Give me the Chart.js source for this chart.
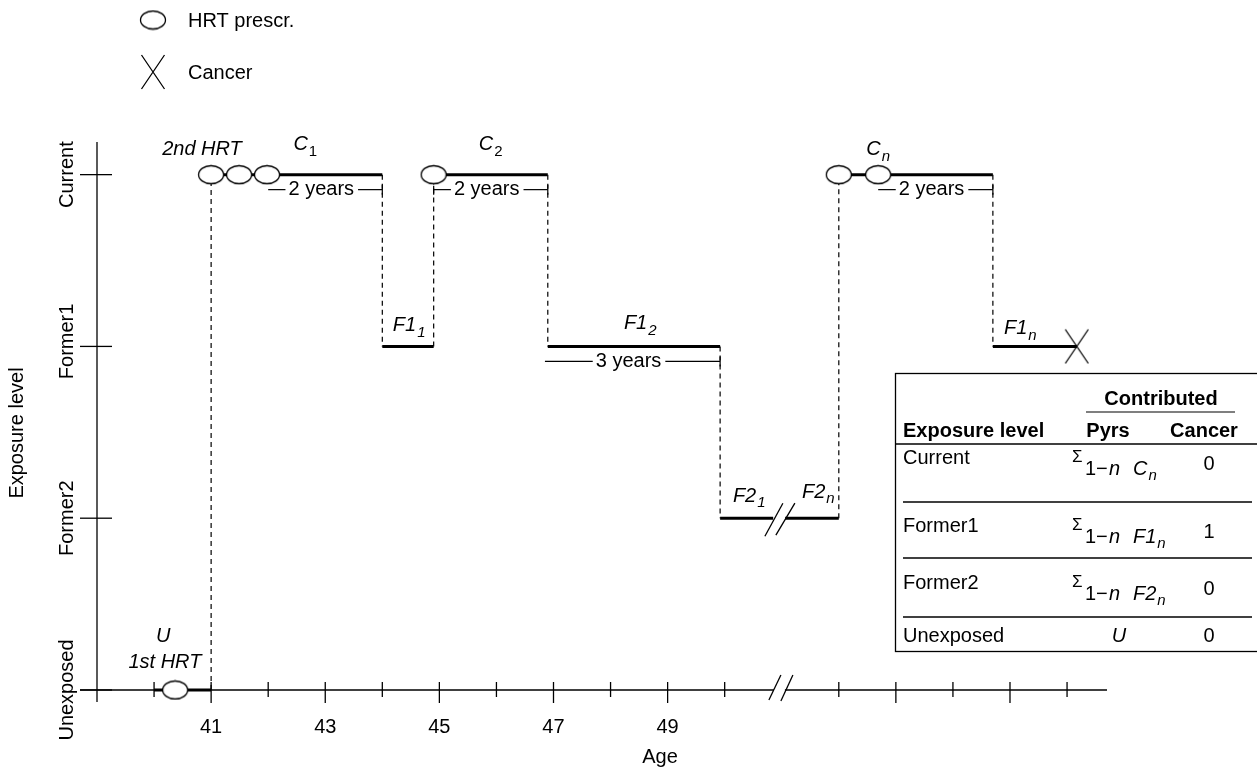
<!DOCTYPE html>
<html><head><meta charset="utf-8">
<script src="https://cdn.jsdelivr.net/npm/chart.js@4/dist/chart.umd.min.js"></script>
<style>html,body{margin:0;padding:0;background:#fff;overflow:hidden}#wrap{width:1257px;height:768px;position:relative}</style>
</head><body><div id="wrap"><canvas id="c" width="1257" height="768"></canvas></div>
<script>
// ---------------- data ----------------
const levelNames = ['Unexposed', 'Former2', 'Former1', 'Current']; // y = 0..3
const axisTicks = [40, 41, 42, 43, 44, 45, 46, 47, 48, 49, 50, 52, 53, 54, 55, 56];
const longTicks = [41, 43, 45, 47, 49, 53, 55];
const labeledTicks = [41, 43, 45, 47, 49];
const tickLabels = ['41', '43', '45', '47', '49'];
const axisBreakAge = 50.95;
// exposure path: one segment per period
const segStart = [40.0, 41.0, 44.0, 44.9, 46.9, 49.92, 52.0, 54.7];
const segEnd   = [41.0, 44.0, 44.9, 46.9, 49.92, 52.0, 54.7, 56.17];
const segLevel = [0, 3, 2, 3, 2, 1, 3, 2];
// HRT prescriptions
const hrtAges   = [40.37, 41.0, 41.49, 41.98, 44.9, 52.0, 52.69];
const hrtLevels = [0, 3, 3, 3, 3, 3, 3];
// cancer
const cancerAges   = [56.17];
const cancerLevels = [2];
// durations
const durFrom  = [42.0, 44.9, 52.69, 46.85];
const durTo    = [44.0, 46.9, 54.7, 49.92];
const durLevel = [3, 3, 3, 2];
const durText  = ['2 years', '2 years', '2 years', '3 years'];
// period labels
const perMain  = ['C', 'C', 'C', 'F1', 'F1', 'F1', 'F2', 'F2', 'U'];
const perSub   = ['1', '2', 'n', '1', '2', 'n', '1', 'n', ''];
const perAge   = [42.65, 45.9, 52.69, 44.47, 48.52, 55.18, 50.43, 51.64, 40.16];
const perLevel = [3, 3, 3, 2, 2, 2, 1, 1, 0];
// table
const tableRows   = ['Current', 'Former1', 'Former2', 'Unexposed'];
const tablePyrs   = ['C', 'F1', 'F2', 'U'];
const tableSub    = ['n', 'n', 'n', ''];
const tableCancer = ['0', '1', '0', '0'];

// ---------------- styling helpers ----------------
const FAM = '"Liberation Sans", Arial, Helvetica, sans-serif';
const font = (size, style) => (style ? style + ' ' : '') + size + 'px ' + FAM;
// label offsets (pixels) above the level line
const perDy = [-30, -30, -25, -21, -23, -18, -22, -26, -54];

function ellipseImg() {
  const c = document.createElement('canvas'); c.width = 28; c.height = 21;
  const g = c.getContext('2d');
  g.beginPath(); g.ellipse(14, 10.5, 12.5, 9, 0, 0, Math.PI * 2);
  g.fillStyle = '#fff'; g.fill(); g.lineWidth = 1.3; g.strokeStyle = '#000'; g.stroke();
  return c;
}
function crossImg() {
  const c = document.createElement('canvas'); c.width = 26; c.height = 36;
  const g = c.getContext('2d');
  g.lineWidth = 1.3; g.strokeStyle = '#000'; g.beginPath();
  g.moveTo(1.5, 1); g.lineTo(24.5, 35); g.moveTo(24.5, 1); g.lineTo(1.5, 35); g.stroke();
  return c;
}
const ELL = ellipseImg(), CRS = crossImg();

// ---------------- datasets ----------------
const datasets = [];
datasets.push({ label: 'HRT prescr.', data: hrtAges.map((a, i) => ({ x: a, y: hrtLevels[i] })),
  pointStyle: ELL, pointRadius: 10, showLine: false, order: 0, clip: false });
datasets.push({ label: 'Cancer', data: cancerAges.map((a, i) => ({ x: a, y: cancerLevels[i] })),
  pointStyle: CRS, pointRadius: 10, showLine: false, order: 0, clip: false });
const thick = (pts) => ({ data: pts, showLine: true, borderColor: '#000', borderWidth: 3,
  pointRadius: 0, borderCapStyle: 'butt', order: 2, clip: false });
segStart.forEach((s, i) => {
  const e = segEnd[i], lv = segLevel[i];
  if (s < axisBreakAge && e > axisBreakAge) {
    datasets.push(thick([{ x: s, y: lv }, { x: axisBreakAge - 0.1, y: lv }]));
    datasets.push(thick([{ x: axisBreakAge + 0.11, y: lv }, { x: e, y: lv }]));
  } else {
    datasets.push(thick([{ x: s, y: lv }, { x: e, y: lv }]));
  }
  if (i < segStart.length - 1) {
    datasets.push({ data: [{ x: e, y: lv }, { x: e, y: segLevel[i + 1] }], showLine: true,
      borderColor: '#000', borderWidth: 1.2, borderDash: [5, 4], pointRadius: 0, order: 3, clip: false });
  }
});

function line(ctx, x1, y1, x2, y2) { ctx.beginPath(); ctx.moveTo(x1, y1); ctx.lineTo(x2, y2); ctx.stroke(); }
function subLabel(ctx, main, sub, cx, cy, mainStyle, subStyle, size, subSize, subDy) {
  ctx.font = font(size, mainStyle); const w1 = ctx.measureText(main).width;
  ctx.font = font(subSize, subStyle); const w2 = sub ? ctx.measureText(sub).width + 1 : 0;
  const x0 = cx - (w1 + w2) / 2;
  ctx.textAlign = 'left'; ctx.textBaseline = 'middle';
  ctx.font = font(size, mainStyle); ctx.fillText(main, x0, cy);
  if (sub) { ctx.font = font(subSize, subStyle); ctx.fillText(sub, x0 + w1 + 1, cy + subDy); }
}

const drawPlugin = {
  id: 'diagram',
  beforeDatasetsDraw(chart) {
    const ctx = chart.ctx, xs = chart.scales.x, ys = chart.scales.y;
    const X = v => xs.getPixelForValue(v), Y = v => ys.getPixelForValue(v);
    const x0 = X(39), y0 = Y(0);
    ctx.save();
    ctx.strokeStyle = '#000'; ctx.lineWidth = 1.3; ctx.lineCap = 'butt';
    // y axis
    line(ctx, x0, chart.chartArea.top, x0, y0 + 12);
    levelNames.forEach((n, i) => line(ctx, x0 - 17, Y(i), x0 + 15, Y(i)));
    // x axis with break
    const xb = X(axisBreakAge);
    line(ctx, x0 - 17, y0, xb - 5, y0);
    line(ctx, xb + 6, y0, chart.chartArea.right, y0);
    line(ctx, xb - 10, y0 + 10, xb + 2, y0 - 15);
    line(ctx, xb + 2, y0 + 11, xb + 14, y0 - 15);
    axisTicks.forEach(t => {
      const px = X(t);
      line(ctx, px, y0 - 8, px, y0 + (longTicks.includes(t) ? 13 : 7));
    });
    // tick labels
    ctx.fillStyle = '#000'; ctx.font = font(20); ctx.textAlign = 'center'; ctx.textBaseline = 'middle';
    labeledTicks.forEach((t, i) => ctx.fillText(tickLabels[i], X(t), y0 + 38));
    ctx.fillText('Age', 660, 757);
    // y labels rotated
    levelNames.forEach((n, i) => {
      ctx.save(); ctx.translate(67, Y(i) - (i === 2 ? 5 : 0)); ctx.rotate(-Math.PI / 2);
      ctx.fillText(n, 0, 0); ctx.restore();
    });
    ctx.save(); ctx.translate(17, 433); ctx.rotate(-Math.PI / 2); ctx.fillText('Exposure level', 0, 0); ctx.restore();
    ctx.restore();
  },
  afterDatasetsDraw(chart) {
    const ctx = chart.ctx, xs = chart.scales.x, ys = chart.scales.y;
    const X = v => xs.getPixelForValue(v), Y = v => ys.getPixelForValue(v);
    ctx.save();
    ctx.strokeStyle = '#000'; ctx.fillStyle = '#000'; ctx.lineWidth = 1.2;
    // break on Former2 line (slashes)
    const xb = X(axisBreakAge), yf = Y(1);
    ctx.lineWidth = 1.3;
    line(ctx, xb - 14, yf + 18, xb + 4, yf - 15);
    line(ctx, xb - 3, yf + 17, xb + 16, yf - 15);
    // durations
    ctx.font = font(20); ctx.textAlign = 'center'; ctx.textBaseline = 'middle';
    durFrom.forEach((f, i) => {
      const x1 = X(f), x2 = X(durTo[i]), y = Y(durLevel[i]) + 15;
      const tw = ctx.measureText(durText[i]).width;
      const cx = (x1 + x2) / 2 - 4;
      ctx.lineWidth = 1.2;
      line(ctx, x1, y, cx - tw / 2 - 3, y);
      line(ctx, cx + tw / 2 + 4, y, x2, y);
      line(ctx, x2, y - 5, x2, y + 5);
      if (segEnd.some(s => Math.abs(s - f) < 0.02)) line(ctx, x1, y - 4, x1, y + 5);
      ctx.fillText(durText[i], cx, y);
    });
    // period labels
    perMain.forEach((m, i) => {
      const cx = X(perAge[i]), cy = Y(perLevel[i]) + perDy[i];
      const upright = m === 'C' && perSub[i] !== 'n';
      subLabel(ctx, m, perSub[i], cx, cy, 'italic', upright ? '' : 'italic', 20, 15, 7);
    });
    ctx.font = font(20, 'italic'); ctx.textAlign = 'center'; ctx.textBaseline = 'middle';
    ctx.fillText('1st HRT', X(40.19), Y(0) - 28);
    ctx.fillText('2nd HRT', X(40.84), Y(3) - 25);
    ctx.restore();
  },
  afterDraw(chart) {
    const ctx = chart.ctx;
    ctx.save();
    ctx.strokeStyle = '#000'; ctx.fillStyle = '#000';
    // legend
    ctx.drawImage(ELL, 153 - 14, 20 - 10.5);
    ctx.drawImage(CRS, 153 - 13, 72 - 18);
    ctx.font = font(20); ctx.textAlign = 'left'; ctx.textBaseline = 'middle';
    ctx.fillText('HRT prescr.', 188, 21);
    ctx.fillText('Cancer', 188, 73);
    // table
    ctx.lineWidth = 1.3;
    ctx.strokeRect(895.5, 373.5, 420, 278);
    ctx.font = font(20, 'bold'); ctx.textAlign = 'center';
    ctx.fillText('Contributed', 1161, 399);
    ctx.lineWidth = 1.2; line(ctx, 1086, 412, 1235, 412);
    ctx.textAlign = 'left'; ctx.fillText('Exposure level', 903, 431);
    ctx.textAlign = 'center'; ctx.fillText('Pyrs', 1108, 431); ctx.fillText('Cancer', 1204, 431);
    ctx.lineWidth = 1.3; line(ctx, 895, 444, 1257, 444);
    const rowY = [458, 526, 583, 636];
    const rowLine = [502, 558, 617];
    rowLine.forEach(y => line(ctx, 903, y, 1252, y));
    tableRows.forEach((r, i) => {
      const y = rowY[i];
      ctx.font = font(20); ctx.textAlign = 'left'; ctx.textBaseline = 'middle';
      ctx.fillText(r, 903, y);
      if (tableSub[i]) {
        ctx.font = font(17); ctx.fillText('\u03A3', 1072, y - 1);
        ctx.font = font(20); ctx.fillText('1', 1085, y + 11);
        ctx.fillText('\u2212', 1096, y + 11);
        ctx.font = font(20, 'italic'); ctx.fillText('n', 1109, y + 11);
        ctx.fillText(tablePyrs[i], 1133, y + 11);
        const w = ctx.measureText(tablePyrs[i]).width;
        ctx.font = font(15, 'italic'); ctx.fillText(tableSub[i], 1134 + w, y + 18);
        ctx.font = font(20); ctx.textAlign = 'center'; ctx.fillText(tableCancer[i], 1209, y + 6);
      } else {
        ctx.font = font(20, 'italic'); ctx.textAlign = 'center'; ctx.fillText(tablePyrs[i], 1119, y);
        ctx.font = font(20); ctx.fillText(tableCancer[i], 1209, y);
      }
    });
    ctx.restore();
  }
};

new Chart(document.getElementById('c'), {
  type: 'scatter',
  data: { datasets },
  options: {
    responsive: false, animation: false, devicePixelRatio: 1, events: [],
    layout: { padding: { left: 97, right: 150, top: 142, bottom: 66 } },
    plugins: { legend: { display: false }, tooltip: { enabled: false } },
    scales: {
      x: { type: 'linear', min: 39, max: 56.7, display: false },
      y: { type: 'linear', min: -0.07, max: 3.19, display: false }
    }
  },
  plugins: [drawPlugin]
});
</script></body></html>
